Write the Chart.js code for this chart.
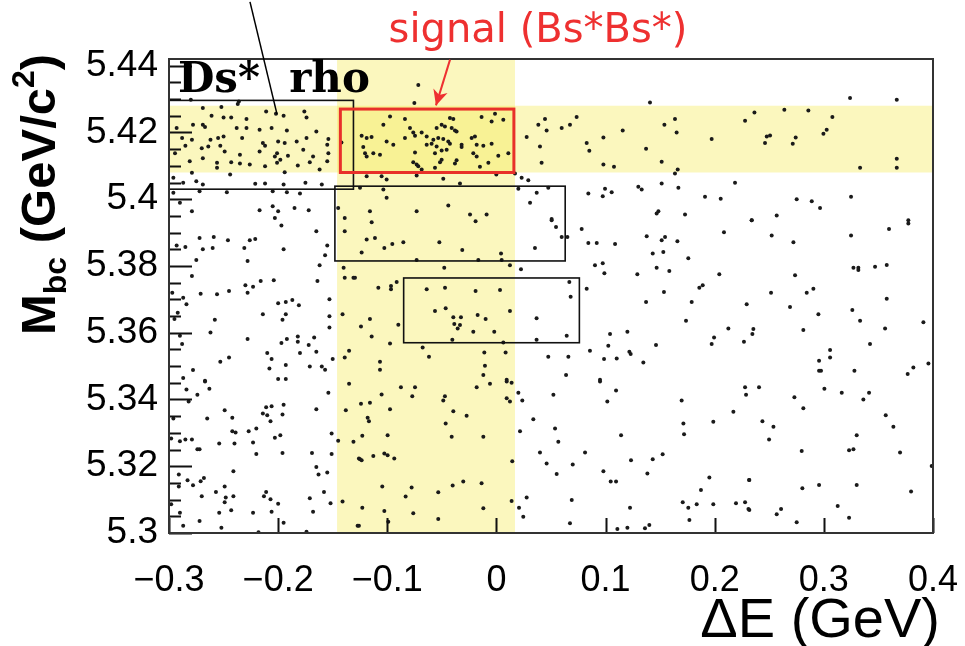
<!DOCTYPE html>
<html>
<head>
<meta charset="utf-8">
<script src="https://cdn.jsdelivr.net/npm/chart.js@4.4.0/dist/chart.umd.min.js"></script>
<style>
html,body{margin:0;padding:0;background:#fff;}
</style>
</head>
<body>
<canvas id="myChart" width="965" height="646"></canvas>
<script>
var xTicks = [-0.3, -0.2, -0.1, 0, 0.1, 0.2, 0.3, 0.4];
var xTickLabels = ["\u22120.3", "\u22120.2", "\u22120.1", "0", "0.1", "0.2", "0.3", "0.4"];
var yTicks = [5.3, 5.32, 5.34, 5.36, 5.38, 5.4, 5.42, 5.44];
var yTickLabels = ["5.3", "5.32", "5.34", "5.36", "5.38", "5.4", "5.42", "5.44"];

// selection bands and boxes: [dEmin, dEmax, Mmin, Mmax]
var deBand = [-0.146, 0.017];
var mbcBand = [5.408, 5.428];
var signalBox = [-0.143, 0.016, 5.408, 5.427];
var otherBoxes = [
  [-0.3, -0.131, 5.403, 5.4296],
  [-0.148, 0.063, 5.3815, 5.4039],
  [-0.085, 0.076, 5.357, 5.3764]
];

// events: [deltaE, Mbc]
var events = [
[-0.280,5.4298],[-0.237,5.4285],[-0.236,5.4293],[-0.269,5.4273],[-0.252,5.4276],[-0.261,5.4250],[-0.250,5.4245],[-0.243,5.4245],
[-0.229,5.4240],[-0.211,5.4263],[-0.202,5.4256],[-0.195,5.4250],[-0.176,5.4263],[-0.174,5.4245],[-0.293,5.4213],[-0.278,5.4223],
[-0.269,5.4223],[-0.267,5.4216],[-0.238,5.4213],[-0.229,5.4213],[-0.217,5.4208],[-0.206,5.4213],[-0.192,5.4206],[-0.165,5.4203],
[-0.154,5.4180],[-0.288,5.4183],[-0.279,5.4178],[-0.262,5.4178],[-0.255,5.4183],[-0.250,5.4188],[-0.233,5.4183],[-0.214,5.4168],
[-0.212,5.4160],[-0.200,5.4173],[-0.194,5.4168],[-0.183,5.4173],[-0.174,5.4183],[-0.155,5.4163],[-0.2945,5.4138],[-0.285,5.4160],
[-0.270,5.4153],[-0.264,5.4158],[-0.253,5.4160],[-0.249,5.4143],[-0.235,5.4133],[-0.217,5.4143],[-0.201,5.4138],[-0.203,5.4128],
[-0.191,5.4130],[-0.177,5.4148],[-0.154,5.4138],[-0.142,5.4170],[-0.281,5.4114],[-0.269,5.4123],[-0.256,5.4109],[-0.243,5.4111],
[-0.235,5.4107],[-0.226,5.4104],[-0.212,5.4099],[-0.201,5.4109],[-0.198,5.4118],[-0.182,5.4101],[-0.171,5.4111],[-0.155,5.4114],
[-0.168,5.4128],[-0.279,5.4079],[-0.256,5.4094],[-0.244,5.4074],[-0.194,5.4081],[-0.162,5.4089],
[-0.296,5.4064],[-0.287,5.4049],[-0.275,5.4054],[-0.269,5.4044],[-0.221,5.4046],[-0.212,5.4047],[-0.195,5.4044],[-0.175,5.4049],
[-0.160,5.4044],[-0.296,5.4019],[-0.272,5.4024],[-0.247,5.4021],[-0.205,5.4024],[-0.192,5.4021],[-0.180,5.4017],[-0.290,5.3989],
[-0.279,5.3964],[-0.217,5.3967],[-0.205,5.3979],[-0.200,5.3964],[-0.185,5.3974],[-0.172,5.3967],[-0.145,5.3974],
[-0.0716,5.4342],[-0.0752,5.4288],[-0.0975,5.4248],[-0.0838,5.4240],[-0.0426,5.4243],[-0.0395,5.4240],[-0.0136,5.4246],[-0.0013,5.4256],
[-0.0044,5.4233],[0.0063,5.4238],[-0.1036,5.4223],[-0.0792,5.4213],[-0.0762,5.4200],[-0.0685,5.4200],[-0.0548,5.4213],[-0.0502,5.4223],
[-0.0472,5.4218],[-0.0410,5.4213],[-0.0380,5.4206],[-0.0365,5.4203],[-0.1189,5.4183],[-0.1144,5.4186],[-0.1006,5.4173],[-0.0945,5.4163],
[-0.0838,5.4183],[-0.0746,5.4190],[-0.0639,5.4188],[-0.0578,5.4178],[-0.0533,5.4183],[-0.0487,5.4180],[-0.0441,5.4173],[-0.0639,5.4163],
[-0.0594,5.4166],[-0.0548,5.4158],[-0.0426,5.4166],[-0.0319,5.4163],[-0.0227,5.4183],[-0.0197,5.4188],[-0.0181,5.4163],[-0.0120,5.4160],
[-0.0044,5.4166],[-0.1220,5.4156],[-0.1235,5.4190],[-0.1204,5.4138],[-0.1128,5.4138],[-0.1067,5.4133],[-0.1189,5.4128],[-0.0746,5.4140],
[-0.0563,5.4138],[-0.0502,5.4146],[-0.0456,5.4148],[-0.0319,5.4156],[-0.0212,5.4138],[-0.0181,5.4128],[0.0017,5.4130],[0.0109,5.4138],
[-0.0762,5.4111],[-0.0731,5.4104],[-0.0716,5.4099],[-0.0517,5.4111],[-0.0502,5.4118],[-0.0380,5.4107],[-0.0365,5.4117],[-0.0151,5.4097],
[-0.0074,5.4109],[-0.0685,5.4089],[-0.0563,5.4094],
[-0.1189,5.4069],[-0.1052,5.4069],[-0.1006,5.4059],[-0.0731,5.4071],[-0.0487,5.4061],[-0.0334,5.4047],[-0.0001,5.4074],[0.0170,5.4077],
[0.0231,5.4064],[0.0292,5.4057],[-0.1250,5.4034],[-0.1036,5.4029],[-0.1006,5.4004],[0.0201,5.4031],[0.0369,5.4019],[0.0475,5.4034],
[0.0308,5.3989],[-0.0441,5.3981],[-0.1159,5.3964],[-0.0731,5.3964],[-0.0242,5.3954],[-0.0090,5.3954],
[0.0277,5.4186],[0.0384,5.4223],[0.0445,5.4240],[0.0460,5.4206],[0.0399,5.4158],[0.0414,5.4109],
[0.1407,5.4290],[0.0735,5.4246],[0.0598,5.4213],[0.0674,5.4223],[0.1157,5.4206],[0.0980,5.4185],[0.1539,5.4223],[0.1636,5.4240],
[0.1651,5.4200],[0.1972,5.4180],[0.2278,5.4235],[0.0827,5.4168],[0.0851,5.4145],[0.1371,5.4151],[0.0980,5.4104],[0.1077,5.4097],
[0.1514,5.4112],[0.1661,5.4089],[0.1636,5.4077],
[0.0842,5.4017],[0.0995,5.4031],[0.1056,5.4021],[0.0974,5.4009],[0.1300,5.4037],[0.1331,5.4029],[0.1514,5.4047],[0.1667,5.4034],
[0.1911,5.4007],[0.2055,5.4001],[0.2186,5.4049],[0.1484,5.3964],[0.1468,5.3957],[0.1728,5.3954],[0.0506,5.3941],
[0.2364,5.4260],[0.2638,5.4268],[0.2858,5.4266],[0.3078,5.4246],[0.3240,5.4303],[0.3668,5.4298],[0.2477,5.4188],[0.2507,5.4191],
[0.2461,5.4168],[0.2742,5.4185],[0.2715,5.4166],[0.2996,5.4196],[0.3026,5.4208],[0.3332,5.4094],[0.3668,5.4121],[0.3668,5.4094],
[0.2751,5.4000],[0.2889,5.3994],[0.2965,5.3974],[0.3249,5.4007],[0.2568,5.3951],[0.2339,5.3937],[0.3774,5.3937],
[-0.203,5.3944],[-0.197,5.3921],[-0.165,5.3904],[-0.139,5.3904],[-0.139,5.3944],[-0.272,5.3884],[-0.259,5.3887],[-0.246,5.3877],
[-0.226,5.3877],[-0.221,5.3881],[-0.293,5.3861],[-0.285,5.3857],[-0.269,5.3850],[-0.260,5.3854],[-0.231,5.3854],[-0.195,5.3850],
[-0.155,5.3861],[-0.157,5.3832],[-0.275,5.3818],[-0.228,5.3815],[-0.162,5.3802],[-0.140,5.3795],[-0.279,5.3770],[-0.139,5.3765],
[-0.131,5.3765],[-0.230,5.3742],[-0.223,5.3738],[-0.216,5.3755],[-0.204,5.3757],[-0.164,5.3755],[-0.245,5.3725],[-0.297,5.3720],
[-0.271,5.3717],[-0.256,5.3715],[-0.228,5.3720],[-0.287,5.3705],[-0.284,5.3685],[-0.200,5.3688],[-0.193,5.3692],[-0.187,5.3698],
[-0.181,5.3682],[-0.153,5.3700],[-0.292,5.3660],[-0.295,5.3641],[-0.258,5.3639],[-0.214,5.3655],[-0.193,5.3655],[-0.196,5.3639],
[-0.153,5.3649],[-0.141,5.3655],[-0.153,5.3616],[-0.262,5.3601],[-0.290,5.3591],[-0.288,5.3566],[-0.228,5.3581],[-0.197,5.3569],
[-0.192,5.3581],[-0.182,5.3589],[-0.182,5.3573],[-0.172,5.3563],[-0.167,5.3586],[-0.210,5.3539],[-0.206,5.3521],[-0.180,5.3539],
[-0.165,5.3543],[-0.135,5.3546],[-0.139,5.3526],[-0.150,5.3521],[-0.253,5.3513],[-0.245,5.3526],[-0.278,5.3488],[-0.208,5.3493],
[-0.193,5.3503],[-0.171,5.3499],[-0.160,5.3499],[-0.157,5.3489],[-0.287,5.3464],[-0.267,5.3456],[-0.200,5.3461],[-0.193,5.3461],
[-0.1143,5.3931],[-0.0191,5.3934],[0.0506,5.3937],[-0.1189,5.3879],[-0.1113,5.3884],[-0.1027,5.3854],[-0.0954,5.3866],[-0.0853,5.3871],
[-0.0523,5.3871],[-0.0313,5.3848],[-0.1235,5.3840],[0.0042,5.3837],[0.0353,5.3854],[-0.0731,5.3818],[-0.0166,5.3818],[0.0048,5.3818],
[-0.0478,5.3795],[0.0124,5.3802],[0.0225,5.3790],[-0.1296,5.3765],[-0.0914,5.3752],[-0.1082,5.3735],[-0.0966,5.3740],[-0.0966,5.3730],
[-0.0639,5.3730],[-0.0471,5.3735],[-0.0191,5.3725],[0.0033,5.3728],[-0.0563,5.3665],[-0.0465,5.3673],[-0.0395,5.3646],[-0.0325,5.3646],
[-0.0386,5.3626],[-0.0355,5.3613],[-0.0334,5.3623],[-0.0172,5.3653],[-0.0099,5.3641],[0.0124,5.3665],[0.0368,5.3643],[-0.1159,5.3641],
[-0.1241,5.3619],[-0.0899,5.3624],[-0.1143,5.3589],[-0.0212,5.3603],[-0.0020,5.3603],[-0.0404,5.3579],[0.0063,5.3571],[0.0368,5.3579],
[-0.0975,5.3568],[-0.0676,5.3556],[-0.0618,5.3528],[-0.0111,5.3541],[0.0084,5.3541],[0.0475,5.3528],[-0.0105,5.3501],[-0.1067,5.3513],
[-0.1067,5.3489],[-0.0120,5.3473],[0.0094,5.3459],
[0.0546,5.3917],[0.0598,5.3887],[0.0650,5.3887],[0.0781,5.3911],[0.0842,5.3869],[0.0919,5.3869],[0.1087,5.3866],[0.1377,5.3889],
[0.1514,5.3877],[0.1545,5.3887],[0.1658,5.3874],[0.2085,5.3901],[0.1432,5.3837],[0.1529,5.3842],[0.1758,5.3823],[0.0903,5.3802],
[0.0974,5.3808],[0.0989,5.3778],[0.1291,5.3775],[0.1468,5.3795],[0.1584,5.3785],[0.2042,5.3775],[0.0668,5.3752],[0.0827,5.3732],
[0.1859,5.3735],[0.1890,5.3742],[0.1535,5.3722],[0.0680,5.3708],[0.1371,5.3692],[0.1789,5.3692],[0.2293,5.3685],[0.1737,5.3636],
[0.2125,5.3613],[0.0644,5.3591],[0.1041,5.3596],[0.1200,5.3603],[0.1994,5.3586],[0.1972,5.3566],[0.2268,5.3573],[0.1462,5.3563],
[0.1025,5.3561],[0.0857,5.3546],[0.1218,5.3543],[0.1230,5.3536],[0.0986,5.3521],[0.1102,5.3523],[0.1346,5.3511],[0.0659,5.3528],
[0.0638,5.3473],[0.0949,5.3459],
[0.2339,5.3937],[0.2522,5.3891],[0.2721,5.3871],[0.3249,5.3891],[0.3597,5.3911],[0.3774,5.3927],[0.3271,5.3795],[0.3316,5.3795],
[0.3316,5.3788],[0.3469,5.3798],[0.3576,5.3803],[0.2736,5.3772],[0.2516,5.3720],[0.2843,5.3720],[0.2904,5.3732],[0.3576,5.3702],
[0.2690,5.3677],[0.2950,5.3655],[0.3261,5.3668],[0.3332,5.3636],[0.3912,5.3631],[0.2354,5.3611],[0.2345,5.3596],[0.2812,5.3608],
[0.3561,5.3613],[0.3423,5.3566],[0.3057,5.3548],[0.3057,5.3526],[0.2956,5.3516],[0.2956,5.3486],[0.2974,5.3486],[0.3280,5.3486],
[0.3820,5.3496],[0.3958,5.3508],[0.3768,5.3476],
[-0.267,5.3454],[-0.284,5.3430],[-0.274,5.3414],[-0.263,5.3432],[-0.282,5.3394],[-0.154,5.3420],[-0.135,5.3447],[-0.249,5.3368],
[-0.211,5.3377],[-0.206,5.3380],[-0.195,5.3384],[-0.165,5.3371],[-0.138,5.3368],[-0.296,5.3343],[-0.265,5.3343],[-0.242,5.3345],
[-0.214,5.3358],[-0.210,5.3353],[-0.196,5.3355],[-0.207,5.3335],[-0.242,5.3305],[-0.239,5.3301],[-0.227,5.3305],[-0.220,5.3313],
[-0.203,5.3285],[-0.198,5.3293],[-0.151,5.3298],[-0.298,5.3283],[-0.290,5.3275],[-0.285,5.3280],[-0.279,5.3280],[-0.254,5.3268],
[-0.240,5.3268],[-0.223,5.3271],[-0.145,5.3276],[-0.131,5.3273],[-0.274,5.3251],[-0.272,5.3251],[-0.220,5.3237],[-0.196,5.3240],
[-0.169,5.3240],[-0.151,5.3237],[-0.126,5.3223],[-0.241,5.3185],[-0.165,5.3198],[-0.163,5.3175],[-0.155,5.3181],[-0.291,5.3175],
[-0.283,5.3158],[-0.278,5.3143],[-0.271,5.3155],[-0.268,5.3165],[-0.291,5.3139],[-0.257,5.3123],[-0.249,5.3139],[-0.270,5.3110],
[-0.248,5.3106],[-0.249,5.3092],[-0.241,5.3110],[-0.213,5.3110],[-0.211,5.3123],[-0.207,5.3101],[-0.200,5.3088],[-0.171,5.3104],
[-0.158,5.3123],[-0.152,5.3089],[-0.141,5.3094],[-0.298,5.3086],[-0.290,5.3061],[-0.254,5.3061],[-0.243,5.3068],[-0.223,5.3061],
[-0.206,5.3064],[-0.168,5.3064],[-0.272,5.3036],[-0.195,5.3031],[-0.287,5.3022],[-0.252,5.3016],[-0.126,5.3022],[-0.218,5.3002],
[-0.174,5.3004],
[-0.0875,5.3437],[-0.0746,5.3437],[-0.1052,5.3415],[-0.0771,5.3410],[-0.0181,5.3437],[-0.0059,5.3447],[0.0094,5.3454],[0.0139,5.3450],
[-0.1241,5.3387],[-0.1159,5.3390],[-0.0975,5.3371],[-0.0472,5.3410],[-0.0487,5.3397],[0.0094,5.3404],[0.0124,5.3394],[0.0201,5.3420],
[0.0237,5.3397],[-0.0395,5.3365],[-0.0273,5.3351],[-0.1180,5.3345],[-0.1168,5.3335],[-0.0465,5.3328],[0.0338,5.3341],[-0.1229,5.3291],
[-0.0997,5.3293],[-0.0410,5.3288],[-0.0120,5.3288],[0.0216,5.3305],[-0.1250,5.3221],[-0.1235,5.3218],[-0.1128,5.3231],[-0.1027,5.3238],
[-0.0997,5.3233],[-0.0936,5.3223],[0.0145,5.3215],[0.0399,5.3241],[0.0460,5.3208],[-0.1046,5.3139],[-0.0777,5.3136],[-0.0401,5.3142],
[-0.0304,5.3154],[-0.0136,5.3149],[-0.0832,5.3109],[-0.0533,5.3122],[0.0277,5.3106],[0.0139,5.3096],[-0.1229,5.3076],[-0.1027,5.3066],
[-0.0762,5.3059],[-0.0120,5.3074],[0.0207,5.3076],[0.0246,5.3049],[-0.1272,5.3022],[-0.0991,5.3034],[-0.0533,5.3042],
[0.0949,5.3454],[0.1096,5.3427],[0.0522,5.3414],[0.1016,5.3394],[0.1697,5.3397],[0.2278,5.3437],[0.2287,5.3414],[0.2171,5.3363],
[0.1713,5.3328],[0.1719,5.3296],[0.1987,5.3333],[0.0537,5.3313],[0.0567,5.3273],[0.1142,5.3293],[0.0812,5.3241],[0.0699,5.3205],
[0.1233,5.3218],[0.1432,5.3221],[0.1523,5.3236],[0.0552,5.3177],[0.0980,5.3185],[0.1383,5.3178],[0.1047,5.3154],[0.1096,5.3154],
[0.1951,5.3166],[0.1874,5.3129],[0.2317,5.3159],[0.0690,5.3099],[0.1224,5.3076],[0.1707,5.3092],[0.1758,5.3076],[0.1835,5.3086],
[0.1987,5.3086],[0.2195,5.3089],[0.2278,5.3092],[0.2317,5.3069],[0.0674,5.3029],[0.1768,5.3039],[0.1108,5.3012],[0.1200,5.3016],
[0.1361,5.3014],[0.1401,5.3024],
[0.2406,5.3437],[0.2730,5.3407],[0.2812,5.3374],[0.3005,5.3432],[0.3164,5.3420],[0.3362,5.3400],[0.3414,5.3420],[0.3567,5.3353],
[0.3637,5.3318],[0.2437,5.3335],[0.2538,5.3318],[0.2498,5.3280],[0.2797,5.3246],[0.3231,5.3248],[0.3271,5.3251],[0.3301,5.3293],
[0.3698,5.3241],[0.3988,5.3201],[0.2315,5.3159],[0.2803,5.3134],[0.2956,5.3144],[0.3301,5.3144],[0.3799,5.3124],[0.2309,5.3072],
[0.2608,5.3072],[0.2568,5.3056],[0.3127,5.3081],[0.3231,5.3046],[0.2751,5.3032]
];

function rect(xs, ys, b) {
  var x0 = xs.getPixelForValue(b[0]), x1 = xs.getPixelForValue(b[1]);
  var y0 = ys.getPixelForValue(b[3]), y1 = ys.getPixelForValue(b[2]);
  return [x0, y0, x1 - x0, y1 - y0];
}

var decor = {
  id: 'decor',
  beforeDatasetsDraw: function(chart) {
    var ctx = chart.ctx, a = chart.chartArea;
    var xs = chart.scales.x, ys = chart.scales.y;
    ctx.save();
    ctx.fillStyle = 'rgba(245,232,80,0.37)';
    var bx0 = xs.getPixelForValue(deBand[0]), bx1 = xs.getPixelForValue(deBand[1]);
    ctx.fillRect(bx0, a.top, bx1 - bx0, a.bottom - a.top);
    var by0 = ys.getPixelForValue(mbcBand[1]), by1 = ys.getPixelForValue(mbcBand[0]);
    ctx.fillRect(a.left, by0, a.right - a.left, by1 - by0);
    ctx.restore();
  },
  afterDatasetsDraw: function(chart) {
    var ctx = chart.ctx, a = chart.chartArea;
    var xs = chart.scales.x, ys = chart.scales.y;
    ctx.save();
    // black boxes
    ctx.strokeStyle = '#111';
    ctx.lineWidth = 1.6;
    otherBoxes.forEach(function(b) {
      var r = rect(xs, ys, b);
      ctx.strokeRect(r[0], r[1], r[2], r[3]);
    });
    // signal box
    ctx.strokeStyle = '#e8302a';
    ctx.lineWidth = 3;
    var r = rect(xs, ys, signalBox);
    ctx.strokeRect(r[0], r[1], r[2], r[3]);

    // ticks
    ctx.strokeStyle = '#111';
    ctx.lineWidth = 2;
    ctx.beginPath();
    for (var v = 5.3; v < 5.4425; v += 0.005) {
      var py = Math.round(ys.getPixelForValue(v)) + 0.5;
      var major = Math.abs(v * 50 - Math.round(v * 50)) < 0.01;
      ctx.moveTo(a.left, py);
      ctx.lineTo(a.left + (major ? 23 : 12), py);
    }
    xTicks.forEach(function(t) {
      var px = Math.round(xs.getPixelForValue(t)) + 0.5;
      ctx.moveTo(px, a.bottom);
      ctx.lineTo(px, a.bottom - 15);
    });
    ctx.stroke();

    // frame
    ctx.strokeStyle = '#333';
    ctx.lineWidth = 2;
    ctx.strokeRect(a.left, a.top, a.right - a.left, a.bottom - a.top);

    // Ds* rho label and pointer
    ctx.fillStyle = '#000';
    ctx.font = 'bold 42px "DejaVu Serif"';
    ctx.textAlign = 'left';
    ctx.textBaseline = 'alphabetic';
    ctx.fillText('Ds*  rho', xs.getPixelForValue(-0.2918), ys.getPixelForValue(5.4322));
    ctx.strokeStyle = '#000';
    ctx.lineWidth = 1.5;
    ctx.beginPath();
    ctx.moveTo(xs.getPixelForValue(-0.2258), ys.getPixelForValue(5.4591));
    ctx.lineTo(xs.getPixelForValue(-0.201), ys.getPixelForValue(5.4254));
    ctx.stroke();

    // signal label and arrow
    ctx.fillStyle = '#ee3030';
    ctx.font = '40px "DejaVu Sans"';
    ctx.textAlign = 'center';
    ctx.textBaseline = 'middle';
    ctx.fillText('signal (Bs*Bs*)', xs.getPixelForValue(0.0381), ys.getPixelForValue(5.4501));
    var ax0 = xs.getPixelForValue(-0.0425), ay0 = ys.getPixelForValue(5.4418);
    var ax1 = xs.getPixelForValue(-0.0554), ay1 = ys.getPixelForValue(5.4281);
    ctx.strokeStyle = '#ee3030';
    ctx.lineWidth = 2;
    ctx.beginPath();
    ctx.moveTo(ax0, ay0);
    ctx.lineTo(ax1, ay1);
    ctx.stroke();
    var ang = Math.atan2(ay1 - ay0, ax1 - ax0);
    ctx.beginPath();
    ctx.moveTo(ax1, ay1);
    ctx.lineTo(ax1 - 17 * Math.cos(ang - 0.45), ay1 - 17 * Math.sin(ang - 0.45));
    ctx.lineTo(ax1 - 11 * Math.cos(ang), ay1 - 11 * Math.sin(ang));
    ctx.lineTo(ax1 - 17 * Math.cos(ang + 0.45), ay1 - 17 * Math.sin(ang + 0.45));
    ctx.closePath();
    ctx.fillStyle = '#ee3030';
    ctx.fill();
    ctx.restore();
  },
  afterDraw: function(chart) {
    var ctx = chart.ctx;
    ctx.save();
    // x axis title
    ctx.fillStyle = '#000';
    ctx.font = '56px "Liberation Sans"';
    ctx.textAlign = 'right';
    ctx.textBaseline = 'alphabetic';
    ctx.fillText('\u0394E (GeV)', 940, 637);
    // y axis title with sub/superscript
    ctx.translate(55, 335);
    ctx.rotate(-Math.PI / 2);
    ctx.textAlign = 'left';
    var big = 'bold 49px "Liberation Sans"', small = 'bold 32px "Liberation Sans"';
    var x = 0;
    ctx.font = big; ctx.fillText('M', x, 0); x += ctx.measureText('M').width;
    ctx.font = small; ctx.fillText('bc', x, 11); x += ctx.measureText('bc').width;
    ctx.font = big; ctx.fillText(' (GeV/c', x, 0); x += ctx.measureText(' (GeV/c').width;
    ctx.font = small; ctx.fillText('2', x, -21); x += ctx.measureText('2').width;
    ctx.font = big; ctx.fillText(')', x, 0);
    ctx.restore();
  }
};

new Chart("myChart", {
  type: "scatter",
  data: {
    datasets: [{
      data: events.map(function(e) { return {x: e[0], y: e[1]}; }),
      backgroundColor: '#1a1a1a',
      borderWidth: 0,
      pointRadius: 2,
      pointHoverRadius: 2,
      clip: 0
    }]
  },
  options: {
    responsive: false,
    animation: false,
    devicePixelRatio: 1,
    events: [],
    layout: {padding: {top: 59, right: 32, left: 0, bottom: 0}},
    plugins: {legend: {display: false}, tooltip: {enabled: false}},
    scales: {
      x: {
        type: 'linear', min: -0.3, max: 0.4,
        afterFit: function(s) { s.height = 113; s.paddingLeft = 0; s.paddingRight = 0; },
        afterBuildTicks: function(s) { s.ticks = xTicks.map(function(v) { return {value: v}; }); },
        grid: {display: false, drawTicks: false},
        border: {display: false},
        ticks: {
          font: {family: 'Liberation Sans', size: 36}, color: '#000', padding: 26, maxRotation: 0,
          callback: function(v, i) { return xTickLabels[i]; }
        },
        title: {display: false}
      },
      y: {
        type: 'linear', min: 5.3, max: 5.442,
        afterFit: function(s) { s.width = 169; s.paddingTop = 0; s.paddingBottom = 0; },
        afterBuildTicks: function(s) { s.ticks = yTicks.map(function(v) { return {value: v}; }); },
        grid: {display: false, drawTicks: false},
        border: {display: false},
        ticks: {
          font: {family: 'Liberation Sans', size: 37}, color: '#000', padding: 11,
          callback: function(v, i) { return yTickLabels[i]; }
        }
      }
    }
  },
  plugins: [decor]
});
</script>
</body>
</html>
